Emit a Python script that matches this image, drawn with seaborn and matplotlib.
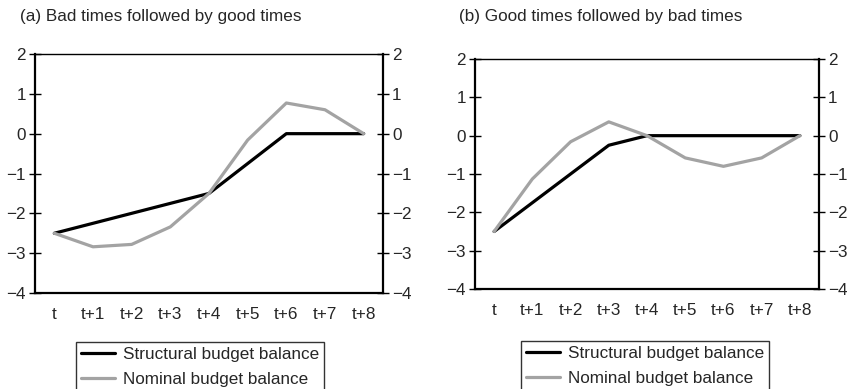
import matplotlib
matplotlib.use("Agg")
import matplotlib.pyplot as plt
import seaborn as sns
import pandas as pd
import numpy as np

periods = ["t", "t+1", "t+2", "t+3", "t+4", "t+5", "t+6", "t+7", "t+8"]
a_structural = [-2.5, -2.25, -2.0, -1.75, -1.5, -0.75, 0.0, 0.0, 0.0]
a_nominal = [-2.5, -2.84, -2.78, -2.34, -1.5, -0.16, 0.77, 0.6, 0.0]
b_structural = [-2.5, -1.75, -1.0, -0.25, 0.0, 0.0, 0.0, 0.0, 0.0]
b_nominal = [-2.5, -1.13, -0.16, 0.36, 0.0, -0.58, -0.8, -0.58, 0.0]
titles = ["(a) Bad times followed by good times", "(b) Good times followed by bad times"]
series_names = ["Structural budget balance", "Nominal budget balance"]
y_ticks = [-4, -3, -2, -1, 0, 1, 2]

sns.set_style("white")
plt.rcParams['font.family'] = ['Liberation Sans', 'DejaVu Sans']
FS = 12.3
plt.rcParams['font.size'] = FS

fig = plt.figure(figsize=(8.53, 3.89), dpi=100)
ax_pos = [
    [35/853, 1-293/389, (383-35)/853, (293-54)/389],
    [475/853, 1-289/389, (819-475)/853, (289-59)/389],
]
title_pos = [(20/853, 1-17/389), (459/853, 1-17/389)]
legend_anchor = [(200/853, 1-342/389), (645/853, 1-341/389)]

palette = {series_names[0]: "black", series_names[1]: "#a3a3a3"}

for i, (s, n) in enumerate([(a_structural, a_nominal), (b_structural, b_nominal)]):
    ax = fig.add_axes(ax_pos[i])
    df = pd.DataFrame({
        "x": list(range(len(periods))) * 2,
        "value": list(s) + list(n),
        "series": [series_names[0]] * len(periods) + [series_names[1]] * len(periods),
    })
    sns.lineplot(data=df, x="x", y="value", hue="series", palette=palette,
                 hue_order=series_names, linewidth=2.3, ax=ax, legend=False, sort=False)
    ax.set_xlim(-0.5, len(periods) - 0.5)
    ax.set_ylim(-4, 2)
    ax.set_xlabel("")
    ax.set_ylabel("")
    ax.set_xticks(np.arange(-0.5, len(periods), 1.0))
    ax.set_xticklabels([])
    ax.set_xticks(range(len(periods)), minor=True)
    ax.set_xticklabels(periods, minor=True)
    ax.tick_params(axis="x", which="major", direction="inout", length=8, width=1, color="black")
    ax.tick_params(axis="x", which="minor", length=0, pad=10, labelsize=FS)
    ax.set_yticks(y_ticks)
    ax.set_yticklabels([str(v).replace("-", "\u2212") for v in y_ticks])
    ax.tick_params(axis="y", which="major", direction="inout", length=9, width=1, color="black",
                   left=True, right=True, labelleft=True, labelright=True, labelsize=FS, pad=2)
    for side in ["left", "right", "bottom"]:
        ax.spines[side].set_linewidth(1.6)
        ax.spines[side].set_color("black")
    ax.spines["top"].set_linewidth(1.0)
    ax.spines["top"].set_color("black")
    fig.text(title_pos[i][0], title_pos[i][1], titles[i], ha="left", va="center", fontsize=FS)
    handles = [plt.Line2D([], [], color=palette[nm], linewidth=2.3) for nm in series_names]
    leg = fig.legend(handles, series_names, loc="upper center", bbox_to_anchor=legend_anchor[i],
                     frameon=True, fancybox=False, edgecolor="black", handlelength=2.0,
                     labelspacing=0.55, borderpad=0.3, handletextpad=0.45, fontsize=FS,
                     borderaxespad=0)
    leg.get_frame().set_linewidth(1.0)

fig.savefig("out.png", dpi=100)
